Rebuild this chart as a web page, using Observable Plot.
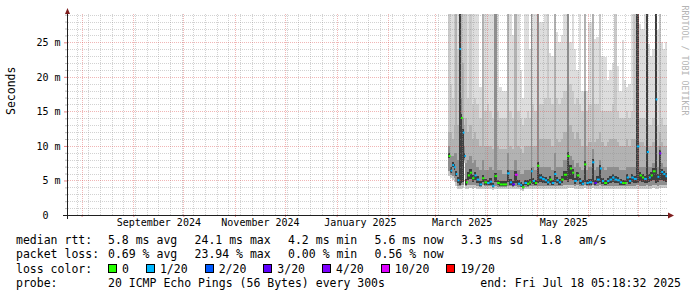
<!DOCTYPE html>
<html><head><meta charset="utf-8">
<script src="https://cdn.jsdelivr.net/npm/d3@7"></script>
<script src="https://cdn.jsdelivr.net/npm/@observablehq/plot@0.6"></script>
<style>
body{margin:0;background:#fff;}
#wrap{position:relative;width:697px;height:297px;overflow:hidden;background:#fff;}
#wrap svg{position:absolute;left:0;top:0;}
#legend{position:absolute;left:16px;top:233px;width:665px;font:11.5px "DejaVu Sans Mono",monospace;line-height:14.3px;white-space:pre;color:#000;}
#legend .row{position:relative;height:14.3px;}
#legend .lab{display:inline-block;width:92px;}
#legend .it{margin-right:17.3px;}
#legend .sq{display:inline-block;width:7px;height:7px;border:1px solid #000;margin-right:5px;vertical-align:baseline;}
#legend .li{margin-right:17px;}
#legend .end{position:absolute;right:0;top:0;}
</style></head><body><div id="wrap"></div>
<script>
// ---- data ----
const day0 = Date.UTC(2025, 2, 1);          // days below are counted from 2025-03-01
const endDay = 139.2;                        // Fri Jul 18 05:18:32 2025
const xStart = new Date(Date.UTC(2024, 6, 23, 5, 18, 32));
const xEnd = new Date(Date.UTC(2025, 6, 18, 5, 18, 32));
const yTop = 29.1;

const days = [7.8,9.1,10.1,11.2,12.2,13.2,14.4,15.4,16.4,17.4,18.3,19.4,20.6,22.0,23.4,24.7,26.4,28.0,29.4,31.0,32.5,34.0,35.4,37.0,38.6,40.4,43.0,44.6,46.0,47.7,49.4,50.9,52.0,53.4,55.0,56.3,57.4,58.4,59.7,61.0,62.4,64.0,65.6,67.0,68.4,69.8,71.3,72.6,74.0,75.4,77.0,79.0,80.6,82.0,83.3,84.8,86.4,87.8,89.2,90.6,92.0,94.0,95.4,96.8,98.6,99.9,101.2,103.0,104.4,106.0,107.4,109.0,110.6,112.0,113.4,114.7,116.1,117.5,119.0,120.8,122.4,123.9,125.2,126.8,128.1,129.2,130.4,132.1,133.2,134.3,135.5,136.7,138.0];
const median = [8.6,6.5,7.3,7.0,6.0,5.1,24.1,14.1,12.0,8.6, 4.8,5.8,6.2,5.4,5.8,5.2,4.5,5.4,4.8,4.7, 4.9,4.3,5.7,4.7,4.5,4.5,6.1,4.8,4.5,5.9, 4.6,4.4,4.1,4.7,4.6,4.8,6.4,5.0,4.7,7.2, 5.5,5.3,5.1,4.8,5.2,4.7,6.0,5.1,4.8,5.2, 5.9,8.6,6.8,6.2,5.0,5.8,5.0,4.6,7.4,4.7, 4.8,7.7,4.7,5.2,6.8,5.0,4.7,5.0,5.2,5.5, 5.2,5.1,4.8,4.7,4.7,5.5,5.0,5.5,5.3,10.0, 5.8,5.5,5.3,9.2,5.5,5.8,6.4,16.8,5.6,9.0, 6.3,6.0,5.7];
const loss = [0,1,1,1,1,1,1,0,1,1, 0,0,0,0,1,1,1,0,0,1, 1,1,0,0,0,0,1,1,3,10, 1,1,0,1,0,0,1,1,0,0, 1,1,1,1,0,1,1,1,1,0, 0,0,0,0,1,0,1,1,0,1, 1,1,3,1,1,1,0,1,1,1, 1,1,1,0,0,1,1,1,1,1, 0,0,1,1,1,0,0,1,1,4, 1,1,1];
// smoke: band tops (outer -> inner) and bottoms
const s1 = [30,30,30,30,30,30,30,30,30,30, 30,30,30,30,30,30,18.6,30,30,30, 30,30,30,30,18.5,18,30,30,26,30, 30,21,17,30,30,24,30,30,30,30, 28,28,30,30,23.5,23,30,26.5,25,26, 30,30,25,30,24,21,30,18,30,18, 28,30,25.5,25.8,28,23,22.9,19.5,21,22, 24,21.5,18,25.3,19.5,18.5,19,30,30,30, 27.7,27,30,30,24.8,23,24,30,26.8,25, 25,24,25];
const s2 = [30,19,17,30,30,24,30,30,30,30, 30,17,30,16,17,16,14,30,15,16, 15,14,30,15,14,14,30,15,14,30, 15,14,13,14,15,14,30,16,15,30, 16,16,17,30,17,16,30,17,16,17, 18,30,19,18,16,17,16,15,30,15, 16,30,16,16,30,15,15,15,15,16, 30,15,14,14,14,15,14,15,30,30, 14,14,14,30,13,13,14,30,13,30, 14,13,13];
const s3 = [12,12,11,13,30,13,30,30,22,13, 14,12,13,11,12,11,10,30,10,10, 10,9.5,30,10,9.5,9.5,30,10,9.5,30, 10,9.5,9,10,10,10,30,10,10,30, 11,11,11,11,11,10,30,11,10.5,11, 12,30,13,12,11,12,11,10,30,10, 10.5,30,10.5,11,12,10.5,10,10.5,11,11, 11,10.5,10,10,10,11,10,11,11,30, 10.5,10.5,10,30,10,10,10.5,30,10,12, 10.5,10,10];
const s4 = [10,8.5,8.5,9,9,8,30,17,14,10, 7.5,8,8.5,7.5,8,7,6.5,8,6.5,6.5, 7,6.5,30,6.5,6.5,6,9,6.5,6.5,8, 6.5,6,6,6.5,6.5,6.5,30,7,6.5,30, 7,7,7,7,7,6.5,9,7,7,7, 8,30,8.5,8,7,7.5,7,6.5,18,6.5, 7,9.5,6.5,7,8,7,6.5,7,7,7, 7,7,6.5,6.5,6.5,7,7,7,7,30, 7,7,7,30,7,7,7.5,30,7,10, 7.5,7,7];
const s5 = [9.0,6.9,7.7,7.4,6.4,5.5,30,14.6,12.4,9.0, 5.2,6.2,6.6,5.8,6.2,5.6,4.9,5.8,5.2,5.1, 5.3,4.7,6.1,5.1,4.9,4.9,6.5,5.2,4.9,6.3, 5.0,4.8,4.5,5.1,5.0,5.2,6.8,5.4,5.1,7.7, 5.9,5.7,5.5,5.2,5.6,5.1,6.4,5.5,5.2,5.6, 6.3,9.1,7.2,6.6,5.4,6.2,5.4,5.0,7.8,5.1, 5.2,8.1,5.1,5.6,7.2,5.4,5.1,5.4,5.6,5.9, 5.6,5.5,5.2,5.1,5.1,5.9,5.4,5.9,5.7,30, 6.2,5.9,5.7,30,5.9,6.2,6.8,30,6.0,9.4, 6.7,6.4,6.1];
const d1 = [8.2,6.1,6.9,6.5,5.6,4.7,4.4,4.6,4.8,8.2, 4.4,5.0,5.2,4.8,5.0,4.7,4.2,4.8,4.4,4.3, 4.4,4.0,4.8,4.3,4.2,4.2,4.8,4.4,4.2,4.6, 4.3,4.1,3.9,4.3,4.2,4.4,4.7,4.5,4.3,4.6, 4.8,4.7,4.6,4.4,4.6,4.3,4.8,4.6,4.4,4.6, 5.0,4.8,5.2,5.0,4.5,4.9,4.5,4.3,4.8,4.3, 4.4,4.8,4.3,4.6,4.8,4.5,4.3,4.5,4.6,4.8, 4.6,4.6,4.4,4.3,4.3,4.8,4.5,4.8,4.7,4.6, 4.9,4.8,4.7,4.7,4.8,4.9,5.1,4.7,4.8,5.0, 5.0,4.9,4.8];
const lo = [5.6,5.3,5.0,4.8,4.2,3.7,3.7,3.8,3.9,7.5, 3.8,3.8,3.9,3.8,3.9,3.8,3.7,3.8,3.8,3.8, 3.8,3.6,3.8,3.7,3.7,3.7,3.8,3.8,3.7,3.8, 3.8,3.6,3.5,3.7,3.7,3.8,3.8,3.8,3.8,3.8, 3.8,3.8,3.8,3.8,3.8,3.8,3.8,3.8,3.8,3.8, 3.8,3.9,3.9,3.9,3.8,3.8,3.8,3.8,3.9,3.8, 3.8,3.9,3.8,3.8,3.8,3.8,3.8,3.8,3.8,3.8, 3.8,3.8,3.8,3.8,3.8,3.8,3.8,3.8,3.8,3.8, 3.8,3.8,3.8,3.8,3.8,3.8,3.9,3.8,3.8,3.9, 3.9,3.9,3.9];
const lo2 = [6.4,5.8,5.6,5.4,4.8,4.2,4.2,4.3,4.4,8.0, 4.2,4.3,4.3,4.3,4.3,4.2,4.1,4.3,4.2,4.2, 4.2,3.9,4.2,4.1,4.1,4.1,4.2,4.2,4.1,4.2, 4.1,4.0,3.8,4.1,4.1,4.2,4.2,4.2,4.2,4.2, 4.2,4.2,4.2,4.2,4.2,4.2,4.2,4.2,4.2,4.2, 4.3,4.3,4.3,4.3,4.2,4.3,4.2,4.2,4.3,4.2, 4.2,4.3,4.2,4.2,4.3,4.2,4.2,4.2,4.2,4.2, 4.2,4.2,4.2,4.2,4.2,4.2,4.2,4.2,4.2,4.3, 4.2,4.2,4.2,4.3,4.2,4.2,4.3,4.3,4.2,4.3, 4.3,4.3,4.3];

const lossLevels = [0, 1, 2, 3, 4, 10, 19];
const lossLabels = ["0", "1/20", "2/20", "3/20", "4/20", "10/20", "19/20"];
const lossColors = ["#26ff00", "#00b8ff", "#0059ff", "#5e00ff", "#7e00ff", "#dd00ff", "#ff0000"];

const yMajor = [0, 5, 10, 15, 20, 25];
const yMinor = [1,2,3,4,6,7,8,9,11,12,13,14,16,17,18,19,21,22,23,24,26,27,28,29];
const monthStarts = ["2024-08-01","2024-09-01","2024-10-01","2024-11-01","2024-12-01","2025-01-01","2025-02-01","2025-03-01","2025-04-01","2025-05-01","2025-06-01","2025-07-01"].map(d => new Date(d));
const labelDates = ["2024-09-16","2024-11-16","2025-01-15","2025-03-17","2025-05-17"].map(d => new Date(d));

const statRtt = ["5.8 ms avg", "24.1 ms max", "4.2 ms min", "5.6 ms now", "3.3 ms sd", "1.8", "am/s"];
const statLoss = ["0.69 % avg", "23.94 % max", "0.00 % min", "0.56 % now"];
const probeText = "20 ICMP Echo Pings (56 Bytes) every 300s";
const endText = "end: Fri Jul 18 05:18:32 2025";

// ---- table ----
const n = days.length;
const rows = days.map((d, i) => ({
  t: new Date(day0 + d * 864e5),
  t2: new Date(day0 + (i < n - 1 ? days[i + 1] : endDay) * 864e5),
  med: median[i], loss: loss[i],
  s1: s1[i], s2: s2[i], s3: s3[i], s4: s4[i], s5: s5[i], d1: d1[i], lo: lo[i], lo2: lo2[i]
}));
const weeks = d3.utcMonday.range(xStart, xEnd);

const GRID = "#8f8f8f", MGRID = "#de5050", AXIS = "#1f1f1f", ARROW = "#7f1f1f";
const band = (y1, y2, fill) => Plot.rect(rows, {x1: "t", x2: "t2", y1, y2, fill, clip: true, shapeRendering: "crispEdges"});

const chart = Plot.plot({
  width: 697, height: 232,
  marginLeft: 67, marginRight: 30, marginTop: 14, marginBottom: 17,
  style: {fontFamily: "'DejaVu Sans Mono', monospace", fontSize: "10px", background: "transparent", color: "#000", overflow: "visible"},
  x: {type: "utc", domain: [xStart, xEnd], label: null},
  y: {domain: [0, yTop], label: null},
  color: {type: "ordinal", domain: lossLevels, range: lossColors},
  marks: [
    band("lo", "s1", "#dddddd"),
    band("lo", "s2", "#c9c9c9"),
    band("lo2", "s3", "#b2b2b2"),
    band("lo2", "s4", "#8e8e8e"),
    band("d1", "s5", "#3e3e3e"),
    Plot.link(rows, {x1: "t", x2: "t2", y1: "med", y2: "med", stroke: "loss", strokeWidth: 2, strokeLinecap: "butt", clip: true}),
    Plot.axisY({ticks: yMinor, tickSize: 2, tickFormat: () => "", stroke: GRID, strokeOpacity: 0.6, label: null}),
    Plot.axisY({ticks: yMajor, tickSize: 3, tickPadding: 4, stroke: MGRID, strokeOpacity: 0.7, fill: "#000", label: null,
      tickFormat: d => d === 0 ? "0\u00a0\u00a0" : `${d} m`}),
    Plot.axisX({ticks: monthStarts, tickSize: 2, tickFormat: () => "", stroke: MGRID, strokeOpacity: 0.7, label: null}),
    Plot.axisX({ticks: labelDates, tickSize: 0, tickPadding: 3, tickFormat: d3.utcFormat("%B %Y"), fill: "#000", label: null}),
    Plot.text(["Seconds"], {text: d => d, frameAnchor: "left", rotate: -90, dx: -56, fontSize: 11.5, fill: "#000"}),
    Plot.text(["RRDTOOL / TOBI OETIKER"], {text: d => d, frameAnchor: "top-right", rotate: 90, textAnchor: "start", dx: 20, dy: -9, fontSize: 8.3, fill: "#b4b4b4"})
  ]
});

// grid (dotted, pixel-snapped, over the smoke and under the median), axis lines and arrows, all through the chart's scales
const X = chart.scale("x"), Y = chart.scale("y");
const xa = Math.round(X.apply(xStart)), xb = Math.round(X.apply(xEnd));
const ya = Math.round(Y.apply(0)), yb = Math.round(Y.apply(yTop));
const svg = d3.select(chart);
const gridG = document.createElementNS("http://www.w3.org/2000/svg", "g");
chart.insertBefore(gridG, chart.querySelector('g[aria-label="link"]'));
const gg = d3.select(gridG).attr("fill", "none").attr("stroke-dasharray", "1,1");
const hline = (v, color, op) => { const y = Math.round(Y.apply(v)) + 0.5;
  gg.append("line").attr("x1", xa + 1).attr("x2", xb).attr("y1", y).attr("y2", y).attr("stroke", color).attr("stroke-opacity", op); };
const vline = (d, color, op) => { const x = Math.round(X.apply(d)) + 0.5;
  gg.append("line").attr("x1", x).attr("x2", x).attr("y1", ya).attr("y2", yb).attr("stroke", color).attr("stroke-opacity", op); };
yMinor.forEach(v => hline(v, GRID, 0.4));
weeks.forEach(d => vline(d, GRID, 0.4));
yMajor.filter(v => v > 0).forEach(v => hline(v, MGRID, 0.42));
monthStarts.forEach(d => vline(d, MGRID, 0.42));

const g = svg.append("g");
g.append("line").attr("x1", xa - 4).attr("x2", xb + 2).attr("y1", ya + 0.5).attr("y2", ya + 0.5).attr("stroke", AXIS);
g.append("line").attr("x1", xa + 0.5).attr("x2", xa + 0.5).attr("y1", ya + 4).attr("y2", yb - 1).attr("stroke", AXIS);
g.append("path").attr("d", `M${xa - 2},${yb}L${xa + 0.5},${yb - 6}L${xa + 3},${yb}Z`).attr("fill", ARROW);
g.append("path").attr("d", `M${xb + 1},${ya - 2.5}L${xb + 7},${ya + 0.5}L${xb + 1},${ya + 3.5}Z`).attr("fill", ARROW);

const wrap = document.getElementById("wrap");
wrap.appendChild(chart);

// ---- legend (text below the SVG) ----
const leg = document.createElement("div");
leg.id = "legend";
const row1 = `<div class="row"><span class="lab">median rtt:</span>${statRtt.map(s => `<span class="it">${s}</span>`).join("")}</div>`;
const row2 = `<div class="row"><span class="lab">packet loss:</span>${statLoss.map(s => `<span class="it">${s}</span>`).join("")}</div>`;
const row3 = `<div class="row"><span class="lab">loss color:</span>${lossLabels.map((s, i) => `<span class="sq" style="background:${lossColors[i]}"></span><span class="li">${s}</span>`).join("")}</div>`;
const row4 = `<div class="row"><span class="lab">probe:</span>${probeText}<span class="end">${endText}</span></div>`;
leg.innerHTML = row1 + row2 + row3 + row4;
wrap.appendChild(leg);
</script>
</body></html>
